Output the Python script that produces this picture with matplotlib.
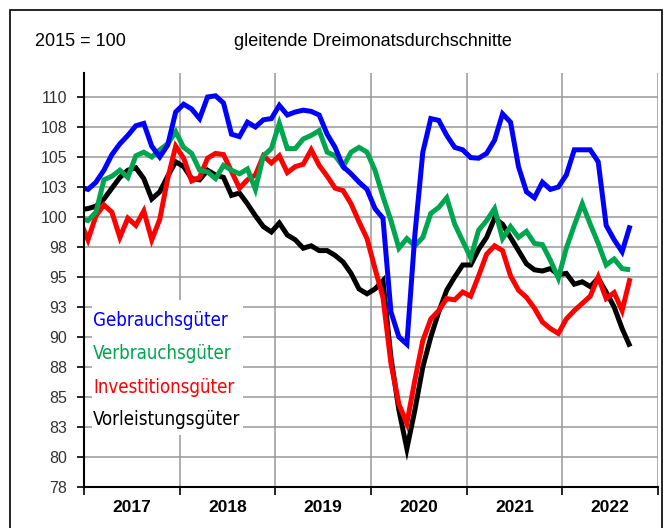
import numpy as np
import matplotlib
matplotlib.use("Agg")
import matplotlib.pyplot as plt
from matplotlib import font_manager
from matplotlib.patches import Rectangle

# ---------------- data (3-month moving averages, Dec 2016 .. Sep 2022) ----------------
years = ["2017", "2018", "2019", "2020", "2021", "2022"]

gebrauch = [102.5,
            102.3, 102.9, 103.9, 105.2, 106.1, 106.8, 107.6, 107.8, 105.9, 105.0, 106.0, 108.75,
            109.4, 109.0, 108.2, 110.0, 110.1, 109.5, 106.9, 106.7, 107.9, 107.5, 108.1, 108.2,
            109.3, 108.5, 108.75, 108.9, 108.8, 108.5, 106.9, 105.8, 104.2, 103.6, 102.9, 102.3,
            100.7, 99.9, 92.1, 90.0, 89.4, 98.5, 105.4, 108.2, 108.05, 106.8, 105.8, 105.6,
            104.95, 104.9, 105.3, 106.4, 108.6, 107.9, 104.2, 102.1, 101.6, 102.9, 102.3, 102.5,
            103.5, 105.6, 105.6, 105.6, 104.6, 99.3, 98.1, 97.1, 99.3]

verbrauch = [99.9,
             99.7, 100.4, 103.1, 103.4, 103.9, 103.3, 105.1, 105.4, 105.0, 105.6, 106.1, 107.1,
             105.8, 105.3, 103.9, 103.75, 103.2, 104.3, 103.9, 103.6, 104.0, 102.3, 105.1, 105.7,
             107.8, 105.7, 105.7, 106.5, 106.8, 107.2, 105.4, 105.1, 104.2, 105.4, 105.8, 105.4,
             103.9, 101.7, 99.7, 97.4, 98.2, 97.6, 98.3, 100.3, 100.8, 101.6, 99.4, 98.0,
             96.6, 98.9, 99.7, 100.7, 98.2, 99.2, 98.3, 98.8, 97.8, 97.7, 96.4, 94.9,
             97.4, 99.3, 101.1, 99.4, 97.8, 96.0, 96.5, 95.7, 95.6]

investition = [99.7,
               98.1, 100.1, 101.0, 100.4, 98.3, 99.9, 99.3, 100.5, 98.1, 99.8, 103.2, 105.9,
               104.9, 103.0, 103.3, 104.9, 105.3, 105.2, 103.8, 102.4, 103.1, 103.5, 105.1, 104.5,
               105.1, 103.7, 104.2, 104.4, 105.6, 104.3, 103.4, 102.4, 102.2, 101.1, 99.6, 98.2,
               95.7, 93.3, 87.8, 84.4, 82.8, 86.4, 89.7, 91.5, 92.2, 93.2, 93.1, 93.75,
               93.4, 95.1, 96.9, 97.6, 97.2, 95.1, 93.9, 93.3, 92.4, 91.25, 90.7, 90.3,
               91.5, 92.2, 92.8, 93.4, 95.0, 93.2, 93.7, 92.2, 94.9]

vorleistung = [100.6,
               100.7, 100.9, 101.5, 102.4, 103.3, 103.9, 104.1, 103.2, 101.5, 102.1, 103.4, 104.6,
               104.2, 103.2, 103.1, 103.9, 103.5, 103.3, 101.8, 102.0, 101.1, 100.1, 99.2, 98.75,
               99.5, 98.5, 98.1, 97.4, 97.6, 97.2, 97.2, 96.8, 96.25, 95.3, 94.0, 93.6,
               94.0, 94.7, 88.3, 83.9, 80.7, 83.9, 87.5, 90.0, 92.1, 93.9, 95.0, 96.0,
               96.0, 97.3, 98.3, 99.9, 99.4, 98.3, 97.2, 96.1, 95.6, 95.5, 95.7, 95.2,
               95.3, 94.4, 94.6, 94.2, 94.9, 93.75, 92.5, 90.7, 89.2]

series_names = ["Gebrauchsgüter", "Verbrauchsgüter", "Investitionsgüter", "Vorleistungsgüter"]
ytick_values = [77.5, 80, 82.5, 85, 87.5, 90, 92.5, 95, 97.5, 100, 102.5, 105, 107.5, 110]
ytick_labels = ["78", "80", "83", "85", "88", "90", "93", "95", "98", "100", "103", "105", "108", "110"]

# ---------------- fonts ----------------
entries = font_manager.fontManager.ttflist
names = {f.name for f in entries}
regular = "Liberation Sans" if "Liberation Sans" in names else "DejaVu Sans"

narrow, narrow_stretch = regular, "normal"
if "Liberation Sans Narrow" in names:
    narrow = "Liberation Sans Narrow"
elif any(f.name == "DejaVu Sans" and str(f.stretch) in ("condensed", "semi-condensed")
         for f in entries):
    narrow, narrow_stretch = "DejaVu Sans", "condensed"
elif "Roboto Condensed" in names:
    narrow = "Roboto Condensed"

# ---------------- figure ----------------
fig = plt.figure(figsize=(6.7, 5.28), dpi=100)
ax = fig.add_axes([84 / 670, 41 / 528, 574 / 670, 414 / 528])

x = np.arange(len(gebrauch)) - 0.5   # month centres, Dec 2016 at -0.5

colors = {"Gebrauchsgüter": "#0000ff", "Verbrauchsgüter": "#00a550",
          "Investitionsgüter": "#ff0000", "Vorleistungsgüter": "#000000"}
data = {"Gebrauchsgüter": gebrauch, "Verbrauchsgüter": verbrauch,
        "Investitionsgüter": investition, "Vorleistungsgüter": vorleistung}

for name, z in [("Vorleistungsgüter", 3), ("Investitionsgüter", 4),
                ("Verbrauchsgüter", 5), ("Gebrauchsgüter", 6)]:
    ax.plot(x, data[name], color=colors[name], lw=3.6, solid_joinstyle="miter",
            solid_capstyle="butt", zorder=z)

ax.set_xlim(0, 72)
ax.set_ylim(77.5, 112)

# grid
for v in ytick_values:
    ax.axhline(v, color="#999999", lw=1.1, zorder=0.5)
for k in range(1, 7):
    ax.axvline(12 * k, color="#999999", lw=1.1, zorder=0.5)

# spines
for s in ["top", "right"]:
    ax.spines[s].set_visible(False)
for s in ["left", "bottom"]:
    ax.spines[s].set_color("black")
    ax.spines[s].set_linewidth(1.5)
    ax.spines[s].set_zorder(7)

ax.set_yticks(ytick_values)
ax.set_yticklabels(ytick_labels, fontfamily=regular, fontsize=11.5, color="#333333")
ax.tick_params(axis="y", length=5, width=1.2, color="black", pad=7)

ax.set_xticks(np.arange(0, 73, 12))
ax.set_xticklabels([])
ax.tick_params(axis="x", which="major", length=6, width=1.2, color="black")
ax.set_xticks(np.arange(6, 72, 12), minor=True)
ax.set_xticklabels(years, minor=True, fontfamily=regular, fontsize=12.5,
                   fontweight="bold", color="black")
ax.tick_params(axis="x", which="minor", length=0, pad=9)

# legend box and texts
ax.add_patch(Rectangle((1.0, 81.8), 18.9, 11.26, facecolor="white",
                       edgecolor="none", zorder=1))
leg_y = [91.4, 88.6, 85.8, 83.1]
leg_texts = []
for name, yy in zip(series_names, leg_y):
    t = ax.text(1.15, yy, name, color=colors[name], fontsize=15, fontfamily=narrow,
                fontstretch=narrow_stretch, ha="left", va="center", zorder=8)
    leg_texts.append(t)

# fit legend text width to the reference (~135 px for "Gebrauchsgüter")
renderer = fig.canvas.get_renderer()
w = leg_texts[0].get_window_extent(renderer).width
if w > 0:
    fs = 15 * 136.0 / w
    for t in leg_texts:
        t.set_fontsize(fs)

# header texts
fig.text(35 / 670, 1 - 42 / 528, "2015 = 100", fontfamily=regular, fontsize=13,
         ha="left", va="center")
fig.text(373 / 670, 1 - 42 / 528, "gleitende Dreimonatsdurchschnitte",
         fontfamily=regular, fontsize=13, ha="center", va="center")

# outer frame
fig.patches.append(Rectangle((10 / 670, -0.1), 652 / 670, 1 - 10 / 528 + 0.1,
                             transform=fig.transFigure, facecolor="none",
                             edgecolor="black", lw=1.2, zorder=0))

fig.savefig("out.png", dpi=100)
